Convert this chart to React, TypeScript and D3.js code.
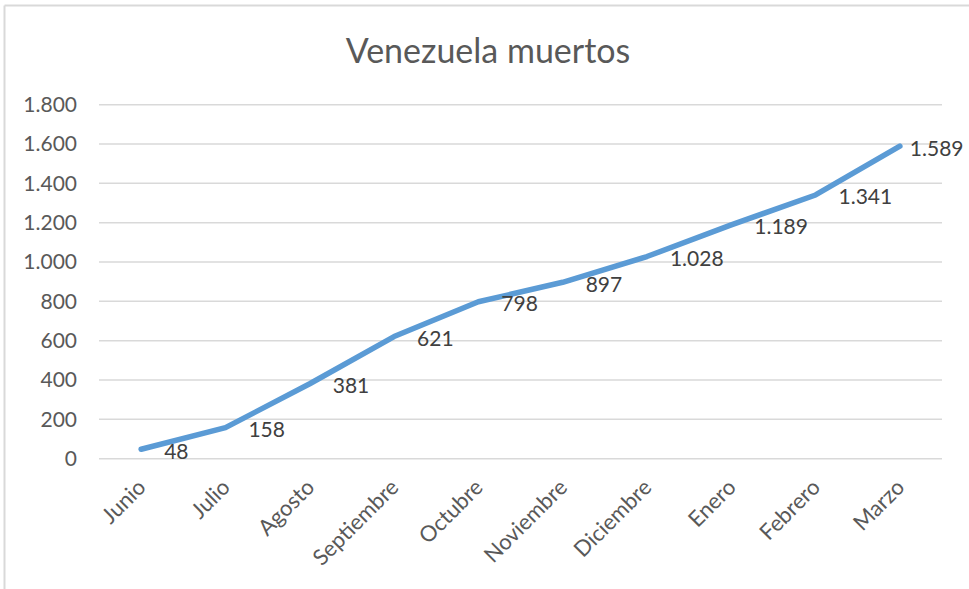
import React from "react";
import * as d3 from "d3";

const months: string[] = ["Junio", "Julio", "Agosto", "Septiembre", "Octubre", "Noviembre", "Diciembre", "Enero", "Febrero", "Marzo"];
const deaths: number[] = [48, 158, 381, 621, 798, 897, 1028, 1189, 1341, 1589];
const yTicks: number[] = [0, 200, 400, 600, 800, 1000, 1200, 1400, 1600, 1800];
const title = "Venezuela muertos";

const W = 969;
const H = 589;
const plot = { left: 99, right: 942, top: 104.7, bottom: 458.7 };
const FONT = "Lato, 'Open Sans', sans-serif";

const fmt = (v: number) => d3.format(",")(v).replace(/,/g, ".");

export default function App() {
  const x = d3.scaleBand<string>().domain(months).range([plot.left, plot.right]).padding(0);
  const y = d3.scaleLinear().domain([0, 1800]).range([plot.bottom, plot.top]);
  const cx = (m: string) => (x(m) as number) + x.bandwidth() / 2;
  const line = d3
    .line<number>()
    .x((_, i) => cx(months[i]))
    .y((d) => y(d));

  return (
    <div style={{ position: "fixed", left: 0, top: 0, background: "#fff" }}>
      <svg width={W} height={H} style={{ display: "block" }}>
        <rect x={0} y={0} width={W} height={H} fill="#fff" />
        {/* chart border */}
        <line x1={4.5} y1={5.5} x2={W} y2={5.5} stroke="#d9d9d9" strokeWidth={2} />
        <line x1={4.5} y1={5.5} x2={4.5} y2={H} stroke="#d9d9d9" strokeWidth={2} />

        <text x={488} y={63} textAnchor="middle" fontFamily={FONT} fontSize={34} fill="#595959">
          {title}
        </text>

        {yTicks.map((t) => (
          <g key={t}>
            <line x1={plot.left} x2={plot.right} y1={y(t)} y2={y(t)} stroke="#d9d9d9" strokeWidth={1.5} />
            <text x={77} y={y(t)} dy="0.35em" textAnchor="end" fontFamily={FONT} fontSize={21} fill="#595959">
              {fmt(t)}
            </text>
          </g>
        ))}

        {months.map((m) => {
          const ax = cx(m) + 6;
          const ay = plot.bottom + 30;
          return (
            <text
              key={m}
              x={ax}
              y={ay}
              textAnchor="end"
              transform={`rotate(-45, ${ax}, ${ay})`}
              fontFamily={FONT}
              fontSize={22}
              fill="#595959"
            >
              {m}
            </text>
          );
        })}

        <path d={line(deaths) || ""} fill="none" stroke="#5b9bd5" strokeWidth={5.5} strokeLinecap="round" strokeLinejoin="round" />

        {deaths.map((v, i) => (
          <text
            key={i}
            x={cx(months[i]) + (i === deaths.length - 1 ? 10 : 23)}
            y={y(v) + 2}
            dy="0.35em"
            fontFamily={FONT}
            fontSize={21}
            fill="#404040"
          >
            {fmt(v)}
          </text>
        ))}
      </svg>
    </div>
  );
}
